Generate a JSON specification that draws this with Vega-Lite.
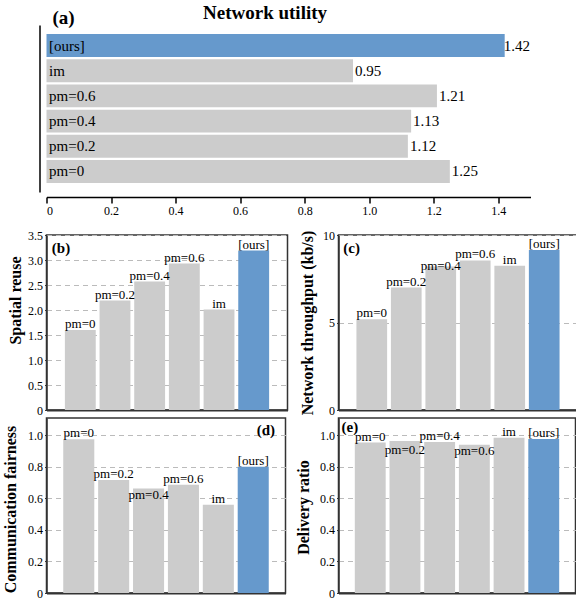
{
  "$schema": "https://vega.github.io/schema/vega-lite/v6.json",
  "padding": {"left": 1.5, "top": 4, "right": 0, "bottom": 0},
  "background": "white",
  "title": {"text": "Network utility", "font": "Liberation Serif", "fontSize": 19, "fontWeight": "bold", "anchor": "middle", "baseline": "middle", "offset": -23.7, "dx": -25},
  "datasets": {
    "util": [
      {"method": "[ours]", "value": 1.42},
      {"method": "im", "value": 0.95},
      {"method": "pm=0.6", "value": 1.21},
      {"method": "pm=0.4", "value": 1.13},
      {"method": "pm=0.2", "value": 1.12},
      {"method": "pm=0", "value": 1.25}
    ],
    "metrics": [
      {"method": "pm=0", "reuse": 1.6, "throughput": 5.18, "fairness": 0.975, "delivery": 0.954},
      {"method": "pm=0.2", "reuse": 2.19, "throughput": 7.0, "fairness": 0.716, "delivery": 0.964},
      {"method": "pm=0.4", "reuse": 2.57, "throughput": 8.2, "fairness": 0.663, "delivery": 0.958},
      {"method": "pm=0.6", "reuse": 2.93, "throughput": 8.55, "fairness": 0.686, "delivery": 0.94},
      {"method": "im", "reuse": 2.01, "throughput": 8.25, "fairness": 0.56, "delivery": 0.985},
      {"method": "[ours]", "reuse": 3.19, "throughput": 9.14, "fairness": 0.8, "delivery": 0.977}
    ]
  },
  "config": {
    "font": "Liberation Serif",
    "view": {"stroke": "#333", "strokeWidth": 1.5},
    "axis": {"labelFont": "Liberation Serif", "titleFont": "Liberation Serif", "labelFontSize": 12, "labelColor": "#000", "titleColor": "#000"},
    "text": {"font": "Liberation Serif", "color": "#000"},
    "title": {"font": "Liberation Serif", "color": "#000"}
  },
  "spacing": 12,
  "vconcat": [
    {
      "width": 484,
      "height": 167,
      "view": {"stroke": null},
      "title": {"text": "(a)", "font": "Liberation Serif", "fontSize": 19, "fontWeight": "bold", "anchor": "start", "frame": "group", "dx": 6, "baseline": "middle", "offset": -11.6},
      "data": {"name": "util"},
      "encoding": {
        "y": {
          "field": "method", "type": "nominal",
          "sort": ["[ours]", "im", "pm=0.6", "pm=0.4", "pm=0.2", "pm=0"],
          "scale": {"paddingInner": 0.09, "paddingOuter": 0.36},
          "axis": {"labels": false, "ticks": false, "grid": false, "domainColor": "#000", "domainWidth": 1.5, "offset": 7, "title": null}
        }
      },
      "layer": [
        {
          "mark": {"type": "bar"},
          "encoding": {
            "x": {
              "field": "value", "type": "quantitative",
              "scale": {"domain": [0, 1.5], "nice": false},
              "axis": {"values": [0, 0.2, 0.4, 0.6, 0.8, 1.0, 1.2, 1.4], "labelExpr": "datum.value === 0 ? '0' : format(datum.value, '.1f')", "labelFont": "Liberation Serif", "offset": 5, "tickSize": 6, "tickColor": "#000", "tickWidth": 1.5, "domainColor": "#000", "domainWidth": 1.5, "grid": false, "title": null, "labelPadding": 2}
            },
            "color": {"condition": {"test": "datum.method === '[ours]'", "value": "#6699cc"}, "value": "#cccccc"}
          }
        },
        {
          "mark": {"type": "text", "font": "Liberation Serif", "align": "left", "dx": 2.5, "fontSize": 15, "baseline": "middle"},
          "encoding": {"x": {"datum": 0, "type": "quantitative"}, "text": {"field": "method"}}
        },
        {
          "mark": {"type": "text", "font": "Liberation Serif", "align": "left", "dx": {"expr": "datum.method === '[ours]' ? -1 : 2"}, "fontSize": 15, "baseline": "middle"},
          "encoding": {"x": {"field": "value", "type": "quantitative"}, "text": {"field": "value", "format": ".2f"}}
        }
      ]
    },
    {
      "spacing": 0,
      "align": "none",
      "vconcat": [
        {
          "spacing": 9,
          "hconcat": [
            {
              "width": 241, "height": 175,
              "data": {"name": "metrics"},
              "encoding": {
                "x": {"field": "method", "type": "nominal", "sort": ["pm=0", "pm=0.2", "pm=0.4", "pm=0.6", "im", "[ours]"], "scale": {"paddingInner": 0.11, "paddingOuter": 0.53}, "axis": {"labels": false, "ticks": false, "title": null, "domainColor": "#333", "domainWidth": 2}},
                "y": {"field": "reuse", "type": "quantitative", "scale": {"domain": [0, 3.5], "nice": false}, "axis": {"values": [0, 0.5, 1, 1.5, 2, 2.5, 3, 3.5], "labelExpr": "datum.value === 0 ? '0' : format(datum.value, '.1f')", "labelFont": "Liberation Serif", "grid": true, "gridDash": [5, 4], "gridColor": "#bbb", "tickSize": 2, "tickColor": "#333", "labelPadding": 2, "domainColor": "#333", "domainWidth": 1.5, "title": "Spatial reuse", "titleFontSize": 16, "titleFontWeight": "bold", "titlePadding": 4, "titleY": 65}}
              },
              "layer": [
                {"mark": {"type": "bar"}, "encoding": {"color": {"condition": {"test": "datum.method === '[ours]'", "value": "#6699cc"}, "value": "#cccccc"}}},
                {"mark": {"type": "text", "font": "Liberation Serif", "baseline": "alphabetic", "fontSize": 13, "dy": -2}, "encoding": {"text": {"field": "method"}}},
                {"transform": [{"filter": "datum.method === 'pm=0'"}], "mark": {"type": "text", "text": "(b)", "font": "Liberation Serif", "fontSize": 15, "fontWeight": "bold", "align": "left", "baseline": "top", "dx": -28.5, "dy": 5.6}, "encoding": {"x": {"datum": "pm=0"}, "y": {"datum": 3.5}}}
              ]
            },
            {
              "width": 239, "height": 175,
              "data": {"name": "metrics"},
              "encoding": {
                "x": {"field": "method", "type": "nominal", "sort": ["pm=0", "pm=0.2", "pm=0.4", "pm=0.6", "im", "[ours]"], "scale": {"paddingInner": 0.11, "paddingOuter": 0.52}, "axis": {"labels": false, "ticks": false, "title": null, "domainColor": "#333", "domainWidth": 2}},
                "y": {"field": "throughput", "type": "quantitative", "scale": {"domain": [0, 10], "nice": false}, "axis": {"values": [0, 5, 10], "labelFont": "Liberation Serif", "grid": true, "gridDash": [5, 4], "gridColor": "#bbb", "tickSize": 2, "tickColor": "#333", "labelPadding": 2, "domainColor": "#333", "domainWidth": 1.5, "title": "Network throughput (kb/s)", "titleFontSize": 16, "titleFontWeight": "bold", "titlePadding": 7.3}}
              },
              "layer": [
                {"mark": {"type": "bar"}, "encoding": {"color": {"condition": {"test": "datum.method === '[ours]'", "value": "#6699cc"}, "value": "#cccccc"}}},
                {"mark": {"type": "text", "font": "Liberation Serif", "baseline": "alphabetic", "fontSize": 13, "dy": {"expr": "datum.method === 'pm=0.4' ? 3.7 : -2"}}, "encoding": {"text": {"field": "method"}}},
                {"transform": [{"filter": "datum.method === 'pm=0'"}], "mark": {"type": "text", "text": "(c)", "font": "Liberation Serif", "fontSize": 15, "fontWeight": "bold", "align": "left", "baseline": "top", "dx": -28.5, "dy": 6.3}, "encoding": {"x": {"datum": "pm=0"}, "y": {"datum": 10}}}
              ]
            }
          ]
        },
        {
          "spacing": 8,
          "hconcat": [
            {
              "width": 239, "height": 175,
              "data": {"name": "metrics"},
              "encoding": {
                "x": {"field": "method", "type": "nominal", "sort": ["pm=0", "pm=0.2", "pm=0.4", "pm=0.6", "im", "[ours]"], "scale": {"paddingInner": 0.11, "paddingOuter": 0.48}, "axis": {"labels": false, "ticks": false, "title": null, "domainColor": "#333", "domainWidth": 2}},
                "y": {"field": "fairness", "type": "quantitative", "scale": {"domain": [0, 1.11], "nice": false}, "axis": {"values": [0, 0.2, 0.4, 0.6, 0.8, 1.0], "labelExpr": "datum.value === 0 ? '0' : format(datum.value, '.1f')", "labelFont": "Liberation Serif", "grid": true, "gridDash": [5, 4], "gridColor": "#bbb", "tickSize": 2, "tickColor": "#333", "labelPadding": 2, "domainColor": "#333", "domainWidth": 1.5, "title": "Communication fairness", "titleFontSize": 16, "titleFontWeight": "bold", "titlePadding": 9, "titleY": 91}}
              },
              "layer": [
                {"mark": {"type": "bar"}, "encoding": {"color": {"condition": {"test": "datum.method === '[ours]'", "value": "#6699cc"}, "value": "#cccccc"}}},
                {"mark": {"type": "text", "font": "Liberation Serif", "baseline": "alphabetic", "fontSize": 13, "dy": {"expr": "datum.method === 'pm=0.4' ? 10.7 : -2"}}, "encoding": {"text": {"field": "method"}}},
                {"transform": [{"filter": "datum.method === '[ours]'"}], "mark": {"type": "text", "text": "(d)", "font": "Liberation Serif", "fontSize": 15, "fontWeight": "bold", "align": "right", "baseline": "top", "dx": 21.8, "dy": 5.2}, "encoding": {"x": {"datum": "[ours]"}, "y": {"datum": 1.11}}}
              ]
            },
            {
              "width": 237, "height": 175,
              "data": {"name": "metrics"},
              "encoding": {
                "x": {"field": "method", "type": "nominal", "sort": ["pm=0", "pm=0.2", "pm=0.4", "pm=0.6", "im", "[ours]"], "scale": {"paddingInner": 0.11, "paddingOuter": 0.47}, "axis": {"labels": false, "ticks": false, "title": null, "domainColor": "#333", "domainWidth": 2}},
                "y": {"field": "delivery", "type": "quantitative", "scale": {"domain": [0, 1.11], "nice": false}, "axis": {"values": [0, 0.2, 0.4, 0.6, 0.8, 1.0], "labelExpr": "datum.value === 0 ? '0' : format(datum.value, '.1f')", "labelFont": "Liberation Serif", "grid": true, "gridDash": [5, 4], "gridColor": "#bbb", "tickSize": 2, "tickColor": "#333", "labelPadding": 2, "domainColor": "#333", "domainWidth": 1.5, "title": "Delivery ratio", "titleFontSize": 16, "titleFontWeight": "bold", "titlePadding": 8, "titleY": 89}}
              },
              "layer": [
                {"mark": {"type": "bar"}, "encoding": {"color": {"condition": {"test": "datum.method === '[ours]'", "value": "#6699cc"}, "value": "#cccccc"}}},
                {"mark": {"type": "text", "font": "Liberation Serif", "baseline": "alphabetic", "fontSize": 13, "dy": {"expr": "datum.method === 'pm=0.2' ? 13 : datum.method === 'pm=0.6' ? 10.4 : -2"}}, "encoding": {"text": {"field": "method"}}},
                {"transform": [{"filter": "datum.method === 'pm=0'"}], "mark": {"type": "text", "text": "(e)", "font": "Liberation Serif", "fontSize": 15, "fontWeight": "bold", "align": "left", "baseline": "top", "dx": -28.7, "dy": 1.8}, "encoding": {"x": {"datum": "pm=0"}, "y": {"datum": 1.11}}}
              ]
            }
          ]
        }
      ]
    }
  ]
}
